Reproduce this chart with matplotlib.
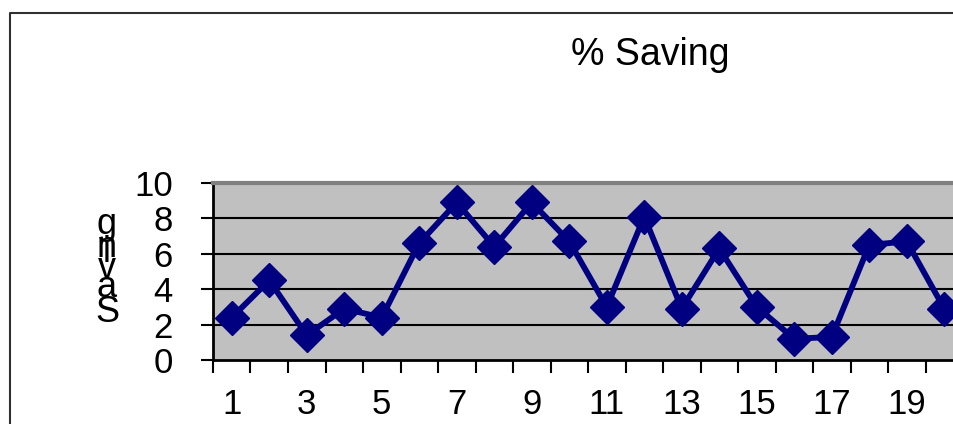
import matplotlib
matplotlib.use("Agg")
import matplotlib.pyplot as plt
from matplotlib.lines import Line2D

categories = list(range(1, 21))
saving = [2.4, 4.5, 1.4, 2.9, 2.4, 6.6, 8.9, 6.4, 8.9, 6.7,
          3.0, 8.1, 2.9, 6.3, 3.0, 1.2, 1.3, 6.5, 6.7, 2.9]
yticks = [0, 2, 4, 6, 8, 10]
xlabels = [str(c) for c in categories if c % 2 == 1]
title = "% Saving"
ylabel = "Saving"

W, H = 954, 424
fig = plt.figure(figsize=(W / 100, H / 100), dpi=100)
fig.patch.set_facecolor("white")
font = "Liberation Sans"

# outer chart frame (clipped at right and bottom)
fig.add_artist(Line2D([10 / W, 10 / W, 1.0], [0.0, 1 - 13 / H, 1 - 13 / H],
                      transform=fig.transFigure, color="#303030", lw=1.5))

ax = fig.add_axes([213 / W, 64 / H, 750 / W, 177 / H])
ax.set_facecolor("#C0C0C0")
ax.set_xlim(0.5, 20.5)
ax.set_ylim(0, 10)

for v in yticks[1:-1]:
    ax.axhline(v, color="black", lw=1.5, zorder=1)

ax.plot(categories, saving, color="#000080", lw=4.2, marker="D",
        markersize=17, markerfacecolor="#000080", markeredgecolor="#000080",
        zorder=3, clip_on=False)

ax.spines["right"].set_visible(False)
ax.spines["top"].set_color("#808080")
ax.spines["top"].set_linewidth(3)
ax.spines["left"].set_color("black")
ax.spines["left"].set_linewidth(2)
ax.spines["bottom"].set_color("black")
ax.spines["bottom"].set_linewidth(2)

ax.set_yticks(yticks)
ax.set_yticklabels([str(v) for v in yticks], fontsize=25, family=font)
ax.tick_params(axis="y", direction="out", length=9, width=1.5, pad=20, color="black")

ax.set_xticks([c for c in categories if c % 2 == 1])
ax.set_xticklabels(xlabels, fontsize=25, family=font)
ax.set_xticks([c + 0.5 for c in range(0, 21)], minor=True)
ax.tick_params(axis="x", which="major", length=0, pad=20)
ax.tick_params(axis="x", which="minor", direction="out", length=9, width=1.5, color="black")

fig.text(650 / W, 1 - 55 / H, title, ha="center", va="center",
         fontsize=27, family=font)

# stacked y-axis label letters (bottom to top)
baselines = [322, 297, 278, 262, 257, 234]
for ch, yb in zip(ylabel, baselines):
    fig.text(107 / W, 1 - yb / H, ch, ha="center", va="baseline",
             fontsize=26, family=font)

fig.savefig("out.png", dpi=100)
